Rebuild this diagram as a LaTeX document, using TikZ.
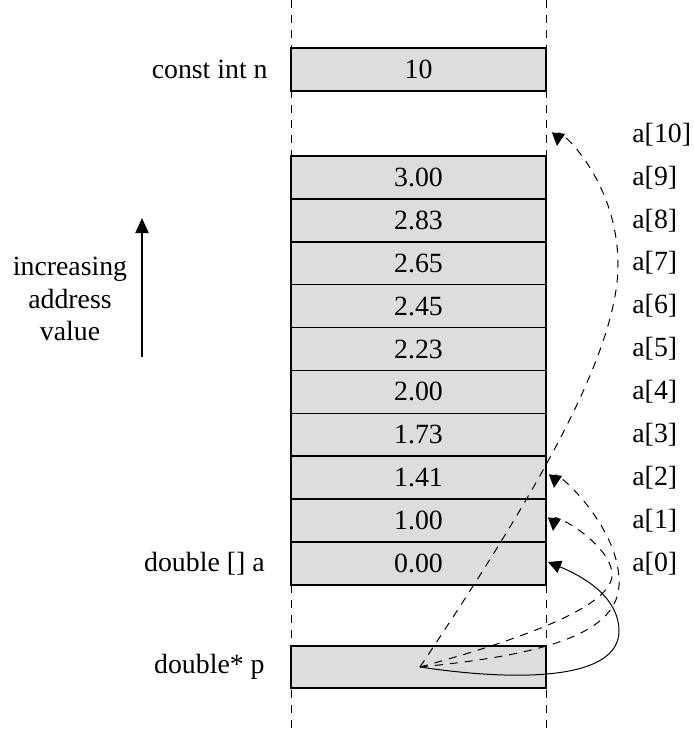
\documentclass[tikz,border=0pt]{standalone}
\usepackage{fontspec}
\setmainfont{Liberation Serif}
\usetikzlibrary{arrows.meta}
\definecolor{cellgray}{RGB}{221,221,221}

\begin{document}
\begin{tikzpicture}[x=0.5pt,y=-0.5pt,
  every node/.style={font=\fontsize{13.9}{16.3}\selectfont},
  cell/.style={draw,line width=0.8pt,fill=cellgray,minimum width=127.5pt,minimum height=21.45pt,inner sep=0pt},
  guide/.style={dash pattern=on 4pt off 3.5pt,line width=0.5pt},
  lab/.style={inner sep=0pt},
  ptr/.style={line width=0.5pt,-{Triangle[length=6.5pt,width=6.5pt]}},
  updir/.style={line width=1pt,-{Triangle[length=7.5pt,width=6.5pt]}}]
\useasboundingbox (0,0) rectangle (693,729);

\draw[guide] (291,0) -- (291,729);
\draw[guide] (546,0) -- (546,729);

\path (418.5,69.5) node[cell,minimum height=21.5pt] (n) {10}
		(418.5,177.4) node[cell] (c9) {3.00}
		(418.5,220.3) node[cell] (c8) {2.83}
		(418.5,263.2) node[cell] (c7) {2.65}
		(418.5,306.1) node[cell] (c6) {2.45}
		(418.5,349.0) node[cell] (c5) {2.23}
		(418.5,391.9) node[cell] (c4) {2.00}
		(418.5,434.8) node[cell] (c3) {1.73}
		(418.5,477.7) node[cell] (c2) {1.41}
		(418.5,520.6) node[cell] (c1) {1.00}
		(418.5,563.5) node[cell] (c0) {0.00}
		(418.5,667) node[cell,minimum height=21pt] (p) {}
		(268,69.5) node[lab,anchor=east] (nname) {const int n}
		(265,563.5) node[lab,anchor=east] (aname) {double [] a}
		(265,667) node[lab,anchor=east] (pname) {double* p}
		(70,299) node[align=center] (dirtext) {increasing\\address\\value}
		(632,134.5) node[lab,anchor=west] (a10) {a[10]}
		(632,177.4) node[lab,anchor=west] (a9) {a[9]}
		(632,220.3) node[lab,anchor=west] (a8) {a[8]}
		(632,263.2) node[lab,anchor=west] (a7) {a[7]}
		(632,306.1) node[lab,anchor=west] (a6) {a[6]}
		(632,349.0) node[lab,anchor=west] (a5) {a[5]}
		(632,391.9) node[lab,anchor=west] (a4) {a[4]}
		(632,434.8) node[lab,anchor=west] (a3) {a[3]}
		(632,477.7) node[lab,anchor=west] (a2) {a[2]}
		(632,520.6) node[lab,anchor=west] (a1) {a[1]}
		(632,563.5) node[lab,anchor=west] (a0) {a[0]};

\coordinate (pstart) at (420,667);
\coordinate (to10) at (557,146);
\coordinate (to2) at (554,488);
\coordinate (to1) at (553,531);
\coordinate (to0) at (548,562);
\coordinate (uplow) at (142,357);
\coordinate (uphigh) at (142,218);

\draw[updir] (node cs:name=uplow) -- (node cs:name=uphigh);

\draw[ptr,guide] (node cs:name=pstart) .. controls (520,517) and (618,360) .. (618,265) .. controls (618,180) and (559,128) .. (node cs:name=to10);
\draw[ptr,guide] (node cs:name=pstart) .. controls (540,655) and (622,635) .. (619,580) .. controls (618,525) and (556,470) .. (node cs:name=to2);
\draw[ptr,guide] (node cs:name=pstart) .. controls (500,645) and (612,610) .. (612,575) .. controls (612,545) and (555,513) .. (node cs:name=to1);
\draw[ptr] (node cs:name=pstart) .. controls (520,682) and (620,680) .. (619,630) .. controls (618,595) and (580,575) .. (node cs:name=to0);
\end{tikzpicture}
\end{document}
